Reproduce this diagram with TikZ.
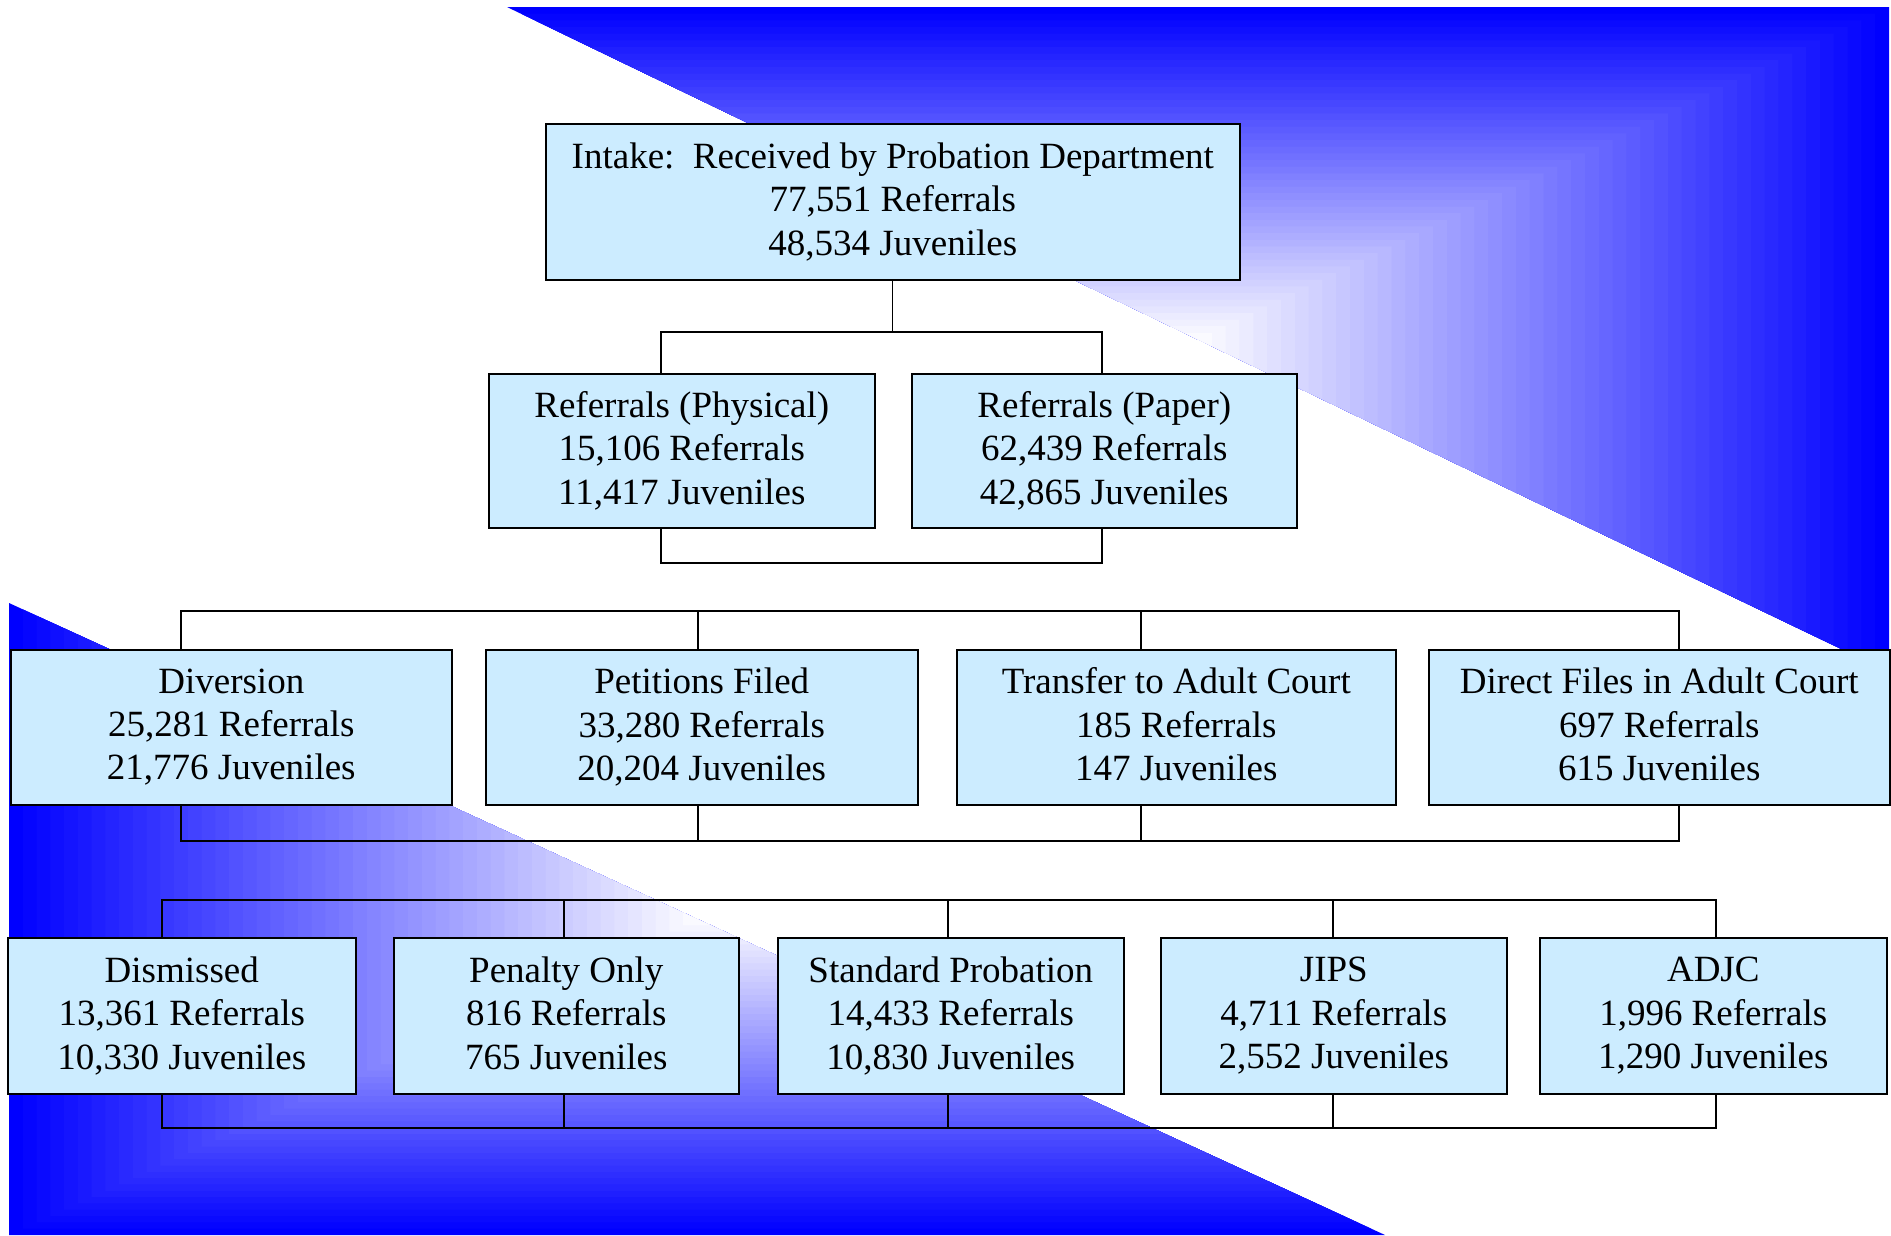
\documentclass[tikz,border=0pt]{standalone}
\usepackage{fontspec}
\setmainfont{Liberation Serif}
\usetikzlibrary{calc}
\definecolor{boxfill}{HTML}{CCECFF}
\definecolor{shadeblue}{HTML}{0000FF}

\begin{document}
\begin{tikzpicture}[
    x=1pt, y=-1pt,
    box/.style={draw, line width=1.6pt, fill=boxfill, anchor=north west, inner sep=0pt,
                align=center, font=\fontsize{37}{43.4}\selectfont,
                execute at end node=\rule[-6pt]{0pt}{1pt}},
    conn/.style={line width=1.3pt, line cap=rect},
]
  \useasboundingbox (0,0) rectangle (1891,1235);

  % Background: two shaded corner triangles
  \coordinate (ta) at (507,7);
  \coordinate (tb) at (1889,7);
  \coordinate (tc) at (1889,672);
  \coordinate (tf) at ($(ta)!0.5!(tc)$);
  \coordinate (ba) at (9,603);
  \coordinate (bb) at (9,1235);
  \coordinate (bc) at (1385,1235);
  \coordinate (bf) at ($(ba)!0.5!(bc)$);
  \foreach \i in {0,...,50}{
    \pgfmathsetmacro\s{1-\i/50}
    \pgfmathsetmacro\p{100*\s}
    \fill[shadeblue!\p!white] ($(tf)!\s!(ta)$) -- ($(tf)!\s!(tb)$) -- ($(tf)!\s!(tc)$) -- cycle;
    \fill[shadeblue!\p!white] ($(bf)!\s!(ba)$) -- ($(bf)!\s!(bb)$) -- ($(bf)!\s!(bc)$) -- cycle;
  }

  % Row 1: intake
  \node[box, minimum width=694pt, minimum height=156pt] (intake) at (545,123)
    {Intake:\ \ Received by Probation Department\\77,551 Referrals\\48,534 Juveniles};

  % Row 2: referral types
  \node[box, minimum width=386pt, minimum height=154pt] (phys) at (488,373)
    {Referrals (Physical)\\15,106 Referrals\\11,417 Juveniles};
  \node[box, minimum width=385pt, minimum height=154pt] (paper) at (911,373)
    {Referrals (Paper)\\62,439 Referrals\\42,865 Juveniles};

  % Row 3: handling
  \node[box, minimum width=441pt, minimum height=155pt] (div) at (10,649)
    {Diversion\\25,281 Referrals\\21,776 Juveniles};
  \node[box, minimum width=432pt, minimum height=155pt] (pet) at (485,649)
    {Petitions Filed\\33,280 Referrals\\20,204 Juveniles};
  \node[box, minimum width=439pt, minimum height=155pt] (trans) at (956,649)
    {Transfer to Adult Court\\185 Referrals\\147 Juveniles};
  \node[box, minimum width=461pt, minimum height=155pt] (direct) at (1428,649)
    {Direct Files in Adult Court\\697 Referrals\\615 Juveniles};

  % Row 4: outcomes
  \node[box, minimum width=348pt, minimum height=156pt] (dism) at (7,937)
    {Dismissed\\13,361 Referrals\\10,330 Juveniles};
  \node[box, minimum width=345pt, minimum height=156pt] (pen) at (393,937)
    {Penalty Only\\816 Referrals\\765 Juveniles};
  \node[box, minimum width=346pt, minimum height=156pt] (std) at (777,937)
    {Standard Probation\\14,433 Referrals\\10,830 Juveniles};
  \node[box, minimum width=346pt, minimum height=156pt] (jips) at (1160,937)
    {JIPS\\4,711 Referrals\\2,552 Juveniles};
  \node[box, minimum width=347pt, minimum height=156pt] (adjc) at (1539,937)
    {ADJC\\1,996 Referrals\\1,290 Juveniles};

  % Brackets: row 1 to row 2
  \coordinate (s1) at (661,332);
  \coordinate (s2) at (1102,332);
  \draw[conn] (intake.south) -- (intake.south |- s1);
  \draw[conn] (phys.north -| s1) -- (s1) -- (s2) -- (paper.north -| s2);
  \coordinate (m1) at (661,563);
  \coordinate (m2) at (1102,563);
  \draw[conn] (phys.south -| m1) -- (m1) -- (m2) -- (paper.south -| m2);

  % Brackets: row 3
  \foreach \n/\x in {div/181, pet/698, trans/1141, direct/1679}{
    \coordinate (\n-up) at (\x,611);
    \coordinate (\n-dn) at (\x,841);
    \draw[conn] (\n-up) -- (\n-up |- \n.north);
    \draw[conn] (\n-dn) -- (\n-dn |- \n.south);
  }
  \draw[conn] (div-up) -- (direct-up);
  \draw[conn] (div-dn) -- (direct-dn);

  % Brackets: row 4
  \foreach \n/\x in {dism/162, pen/564, std/948, jips/1333, adjc/1716}{
    \coordinate (\n-up) at (\x,900);
    \coordinate (\n-dn) at (\x,1128);
    \draw[conn] (\n-up) -- (\n-up |- \n.north);
    \draw[conn] (\n-dn) -- (\n-dn |- \n.south);
  }
  \draw[conn] (dism-up) -- (adjc-up);
  \draw[conn] (dism-dn) -- (adjc-dn);
\end{tikzpicture}
\end{document}
